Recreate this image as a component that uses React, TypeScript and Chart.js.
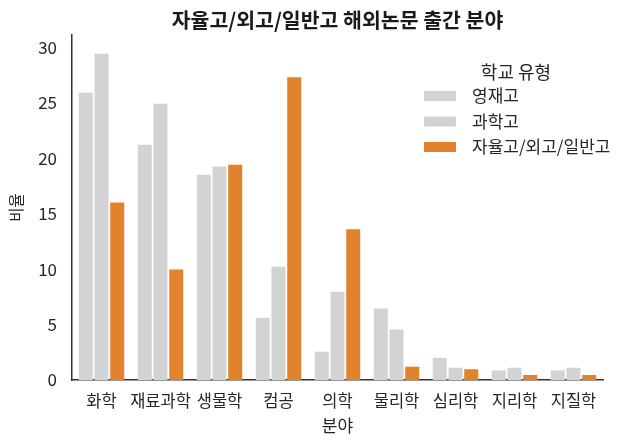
import React, { useEffect, useRef } from "react";
import { Chart, registerables } from "chart.js";

Chart.register(...registerables);

const categories = ["화학", "재료과학", "생물학", "컴공", "의학", "물리학", "심리학", "지리학", "지질학"];
const seriesNames = ["영재고", "과학고", "자율고/외고/일반고"];
const gifted = [25.9, 21.2, 18.5, 5.6, 2.55, 6.45, 2.0, 0.87, 0.87];
const science = [29.4, 24.9, 19.25, 10.2, 7.95, 4.55, 1.1, 1.1, 1.1];
const general = [16.0, 9.95, 19.4, 27.3, 13.6, 1.2, 0.97, 0.45, 0.45];
const seriesColors = ["#d3d3d3", "#d3d3d3", "#e1822c"];
const yTicks = [0, 5, 10, 15, 20, 25, 30];
const titleText = "자율고/외고/일반고 해외논문 출간 분야";
const legendTitle = "학교 유형";
const xTitle = "분야";
const yTitle = "비율";

const FONT = "'Noto Sans CJK KR', 'Noto Sans', sans-serif";
const TEXT = "#262626";

const legendPlugin = {
  id: "inAreaLegend",
  afterDraw(chart: any) {
    const ctx = chart.ctx;
    ctx.save();
    ctx.fillStyle = TEXT;
    ctx.textBaseline = "middle";
    ctx.textAlign = "center";
    ctx.font = `18px ${FONT}`;
    ctx.fillText(legendTitle, 516, 72);
    ctx.font = `17px ${FONT}`;
    ctx.textAlign = "left";
    chart.data.datasets.forEach((ds: any, i: number) => {
      const cy = 96 + i * 25.5;
      ctx.fillStyle = ds.backgroundColor;
      ctx.fillRect(424, cy - 5, 32, 10);
      ctx.fillStyle = TEXT;
      ctx.fillText(ds.label, 472, cy);
    });
    ctx.restore();
  },
};

export default function App() {
  const ref = useRef<HTMLCanvasElement | null>(null);
  useEffect(() => {
    if (!ref.current) return;
    const chart = new Chart(ref.current, {
      type: "bar",
      data: {
        labels: categories,
        datasets: [gifted, science, general].map((d, i) => ({
          label: seriesNames[i],
          data: d,
          backgroundColor: seriesColors[i],
          borderWidth: 0,
          categoryPercentage: 0.8,
          barPercentage: 0.89,
        })),
      },
      options: {
        animation: false,
        responsive: false,
        layout: { padding: { left: 0, right: 27, top: 0, bottom: 0 } },
        plugins: {
          legend: { display: false },
          tooltip: { enabled: false },
          title: {
            display: true,
            text: titleText,
            fullSize: false,
            color: "#1a1a1a",
            font: { family: FONT, size: 20.5, weight: "bold" },
            padding: { top: 7.7, bottom: 2.7 },
          },
        },
        scales: {
          x: {
            grid: { display: false, drawTicks: false },
            border: { display: true, color: "#333333", width: 1.5 },
            ticks: { color: TEXT, font: { family: FONT, size: 16.5 }, padding: 11, maxRotation: 0, autoSkip: false },
            title: { display: true, text: xTitle, color: TEXT, font: { family: FONT, size: 17 }, padding: { top: 0, bottom: 10.8 } },
            afterFit: (s: any) => { s.height = 67; },
          },
          y: {
            min: 0,
            max: 31.1,
            grid: { display: false, drawTicks: false },
            border: { display: true, color: "#333333", width: 1.5 },
            ticks: {
              color: TEXT,
              font: { family: FONT, size: 17 },
              padding: 15,
              stepSize: 5,
              includeBounds: false,
            },
            afterBuildTicks: (s: any) => { s.ticks = yTicks.map((v) => ({ value: v })); },
            title: { display: true, text: yTitle, color: TEXT, font: { family: FONT, size: 15.5 }, padding: { top: 7, bottom: 0 } },
            afterFit: (s: any) => { s.width = 72; },
          },
        },
      },
      plugins: [legendPlugin],
    });
    return () => chart.destroy();
  }, []);
  return (
    <div style={{ position: "absolute", left: 0, top: 0, width: 630, height: 447, background: "#fff" }}>
      <canvas ref={ref} width={630} height={447} style={{ display: "block" }} />
    </div>
  );
}
